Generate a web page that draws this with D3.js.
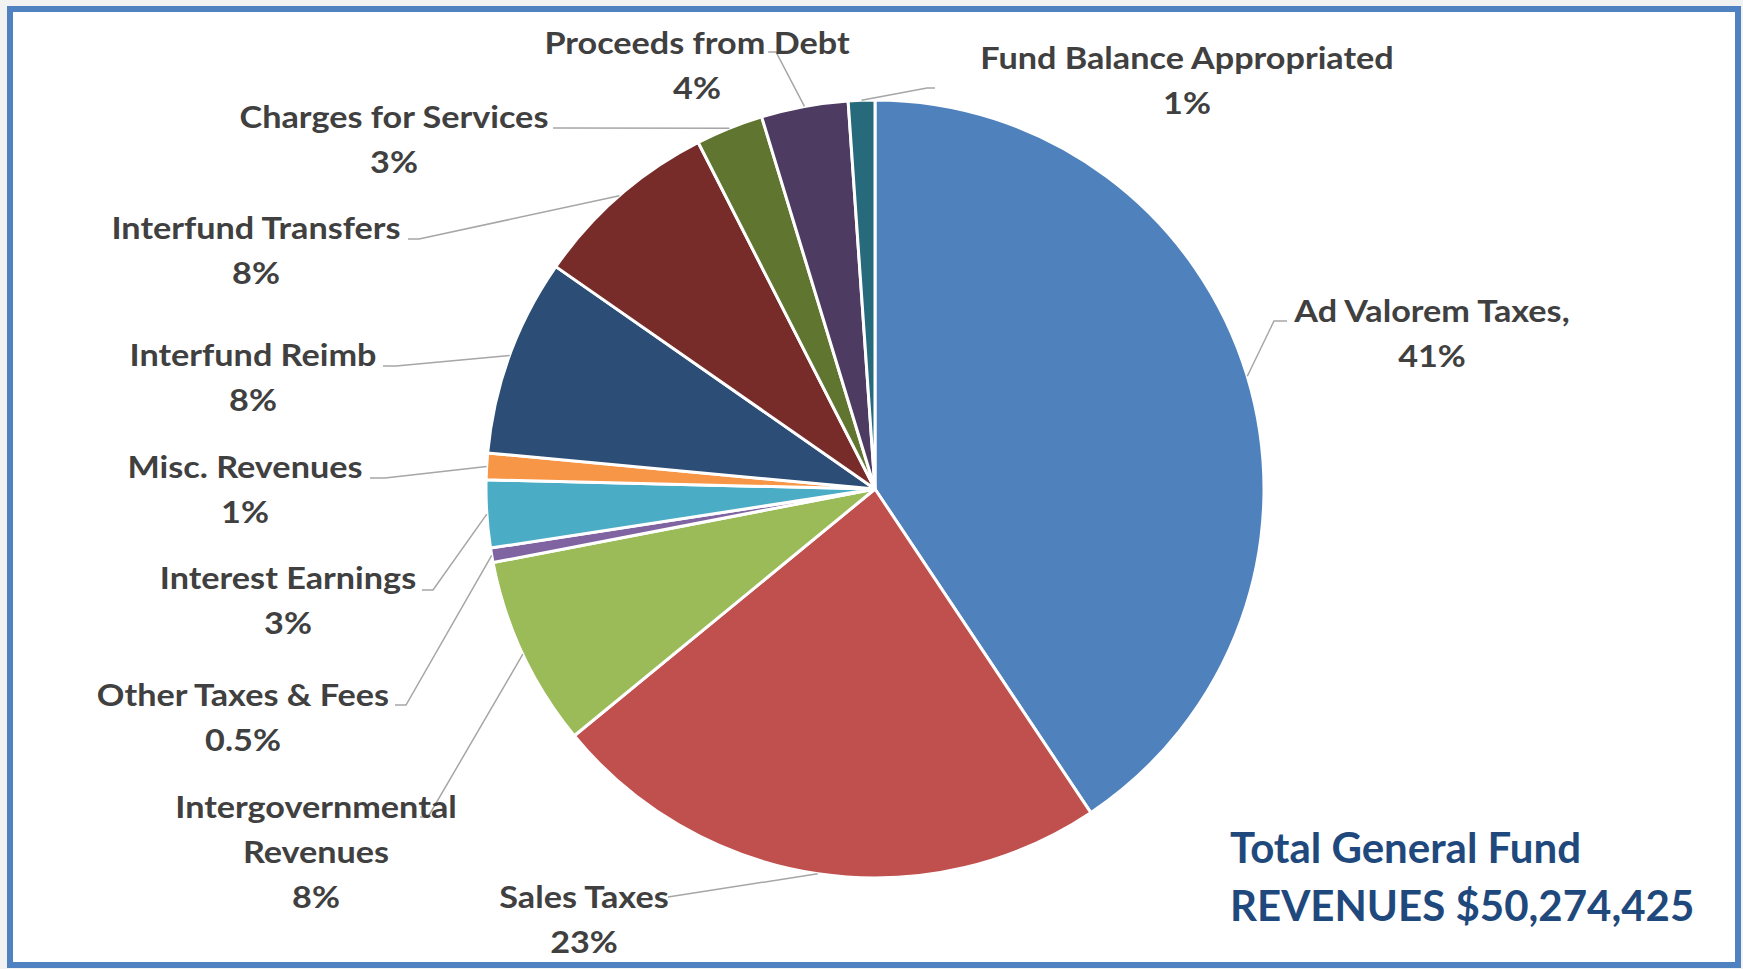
<!DOCTYPE html>
<html>
<head>
<meta charset="utf-8">
<script src="https://cdn.jsdelivr.net/npm/d3@7"></script>
<style>
  body { margin: 0; background: #f2f2f2; }
  text { font-family: Lato, "Open Sans", sans-serif; font-weight: 700; }
</style>
</head>
<body>
<div id="chart"></div>
<script>
//Slice names, clockwise from 12 o'clock
var categories = ["Ad Valorem Taxes", "Sales Taxes", "Intergovernmental Revenues", "Other Taxes & Fees",
	"Interest Earnings", "Misc. Revenues", "Interfund Reimb", "Interfund Transfers",
	"Charges for Services", "Proceeds from Debt", "Fund Balance Appropriated"];

//Share of total revenues (percent)
var shares = [40.6, 23.4, 7.9, 0.6, 2.8, 1.1, 8.2, 7.8, 2.8, 3.6, 1.1];

//The percentage text printed on each label
var pctLabels = ["41%", "23%", "8%", "0.5%", "3%", "1%", "8%", "8%", "3%", "4%", "1%"];

//The color of each slice
var colors = ["#4F81BD", "#C0504D", "#9BBB59", "#8064A2", "#4BACC6", "#F79646",
	"#2C4D75", "#772C2A", "#5F7530", "#4D3B62", "#276A7C"];

var totalTitle = ["Total General Fund", "REVENUES $50,274,425"];

///////////////////////////////////////////////////////////////////////////
//////////////////////////// Layout ///////////////////////////////////////
///////////////////////////////////////////////////////////////////////////

var width = 1743,
	height = 969;

var cx = 875, cy = 489, radius = 389;
var lineGap = 45;
var stretch = 1.14; //labels are wider than Lato

//label centre (first line) + leader elbow and tick end
var labelLayout = [
	{x: 1432, y: 311, lines: ["Ad Valorem Taxes,"], ex: 1274, ey: 321, tx: 1287},
	{x: 584, y: 897, ex: 668, ey: 897, tx: 668},
	{x: 316, y: 807, lines: ["Intergovernmental", "Revenues"], ex: 428, ey: 817, tx: 420},
	{x: 243, y: 695, ex: 406, ey: 705, tx: 395},
	{x: 288, y: 578, ex: 433, ey: 590, tx: 422},
	{x: 245, y: 467, ex: 385, ey: 478, tx: 370},
	{x: 253, y: 355, ex: 396, ey: 366, tx: 383},
	{x: 256, y: 228, ex: 419, ey: 239, tx: 408},
	{x: 394, y: 117, ex: 560, ey: 128, tx: 553},
	{x: 697, y: 43, ex: 776, ey: 52, tx: 768},
	{x: 1187, y: 58, ex: 927, ey: 88, tx: 935}
];

var svg = d3.select("#chart").append("svg")
	.attr("width", width)
	.attr("height", height);

//frame
svg.append("rect")
	.attr("x", 10)
	.attr("y", 9)
	.attr("width", 1728)
	.attr("height", 956)
	.attr("fill", "#fff")
	.attr("stroke", "#5081C0")
	.attr("stroke-width", 6);

///////////////////////////////////////////////////////////////////////////
//////////////////////////// Pie //////////////////////////////////////////
///////////////////////////////////////////////////////////////////////////

var pie = d3.pie()
	.sort(null)
	.value(function (d) { return d; });

var arcs = pie(shares);

var arc = d3.arc()
	.innerRadius(0)
	.outerRadius(radius);

var g = svg.append("g")
	.attr("transform", "translate(" + cx + "," + cy + ")");

g.selectAll(".slice")
	.data(arcs)
	.enter().append("path")
	.attr("class", "slice")
	.attr("d", arc)
	.style("fill", function (d, i) { return colors[i]; })
	.attr("stroke", "#fff")
	.attr("stroke-width", 3)
	.attr("stroke-linejoin", "round");

//leader lines: from slice mid-angle on the rim to the label
svg.append("g")
	.selectAll(".leader")
	.data(arcs)
	.enter().append("polyline")
	.attr("class", "leader")
	.attr("points", function (d, i) {
		var a = (d.startAngle + d.endAngle) / 2;
		var px = cx + radius * Math.sin(a),
			py = cy - radius * Math.cos(a);
		var L = labelLayout[i];
		return [[px, py], [L.ex, L.ey], [L.tx, L.ey]].join(" ");
	})
	.attr("fill", "none")
	.attr("stroke", "#A6A6A6")
	.attr("stroke-width", 1.5);

//labels
var labels = svg.append("g")
	.selectAll(".label")
	.data(arcs)
	.enter().append("text")
	.attr("class", "label")
	.attr("text-anchor", "middle")
	.attr("fill", "#404040")
	.attr("transform", function (d, i) {
		return "translate(" + labelLayout[i].x + "," + labelLayout[i].y + ") scale(" + stretch + ",1)";
	})
	.style("font-size", "30px");

labels.each(function (d, i) {
	var L = labelLayout[i];
	var lines = (L.lines || [categories[i]]).concat([pctLabels[i]]);
	var t = d3.select(this);
	lines.forEach(function (s, k) {
		t.append("tspan")
			.attr("x", 0)
			.attr("y", k * lineGap)
			.attr("dy", "0.36em")
			.text(s);
	});
});

//total
svg.append("g")
	.selectAll(".total")
	.data(totalTitle)
	.enter().append("text")
	.attr("class", "total")
	.attr("x", 1230)
	.attr("y", function (d, i) { return 848 + i * 58; })
	.attr("dy", "0.36em")
	.attr("fill", "#1F497D")
	.style("font-size", "42px")
	.text(function (d) { return d; });
</script>
</body>
</html>
